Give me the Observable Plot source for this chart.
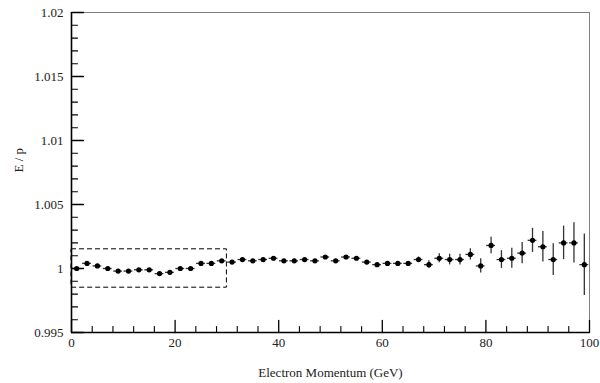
<!DOCTYPE html>
<html>
<head>
<meta charset="utf-8">
<script src="https://cdn.jsdelivr.net/npm/d3@7"></script>
<script src="https://cdn.jsdelivr.net/npm/@observablehq/plot@0.6"></script>
<style>
  html, body { margin: 0; padding: 0; background: #fff; }
  #chart svg, #chart svg text { font-family: "Liberation Serif", "Times New Roman", serif !important; }
</style>
</head>
<body>
<div id="chart"></div>
<script>
const momentum = [1,3,5,7,9,11,13,15,17,19,21,23,25,27,29,31,33,35,37,39,41,43,45,47,49,51,53,55,57,59,61,63,65,67,69,71,73,75,77,79,81,83,85,87,89,91,93,95,97,99];
const ratio = [1.0000,1.0004,1.0002,1.0000,0.9998,0.9998,0.9999,0.9999,0.9996,0.9997,
               1.0000,1.0000,1.0004,1.0004,1.0006,1.0005,1.0007,1.0006,1.0007,1.0008,
               1.0006,1.0006,1.0007,1.0006,1.0009,1.0006,1.0009,1.0008,1.0005,1.0003,
               1.0004,1.0004,1.0004,1.0007,1.0003,1.0008,1.0007,1.0007,1.0011,1.0002,
               1.0018,1.0007,1.0008,1.0012,1.0022,1.0017,1.0007,1.0020,1.0020,1.0003];
const ratioErr = [0.0001,0.0001,0.0001,0.0001,0.0001,0.0001,0.0001,0.0001,0.0001,0.0001,
                  0.0001,0.0001,0.0001,0.0001,0.0001,0.0001,0.0001,0.0001,0.0001,0.0001,
                  0.0001,0.0001,0.0001,0.0001,0.0001,0.0001,0.0001,0.0001,0.0001,0.0001,
                  0.00015,0.00015,0.00015,0.0002,0.0003,0.00035,0.00042,0.00042,0.00044,0.00056,
                  0.00065,0.00069,0.00078,0.00083,0.00094,0.0012,0.00124,0.00131,0.00158,0.0024];
const binHalfWidth = 0.85;
const xMajorTicks = [0,20,40,60,80,100];
const xMinorTicks = [4,8,12,16,24,28,32,36,44,48,52,56,64,68,72,76,84,88,92,96];
const yMajorTicks = [0.995,1.0,1.005,1.01,1.015,1.02];
const yMinorTicks = [0.996,0.997,0.998,0.999,1.001,1.002,1.003,1.004,1.006,1.007,1.008,1.009,1.011,1.012,1.013,1.014,1.016,1.017,1.018,1.019];
const boxRegion = [{x1: 0, x2: 30, y1: 0.9985, y2: 1.0015}];
const xLabel = "Electron Momentum (GeV)";
const yLabel = "E / p";

const data = momentum.map((x, i) => ({x, y: ratio[i], e: ratioErr[i]}));

const tickUp = {draw(ctx, l) { ctx.moveTo(0, 0); ctx.lineTo(0, -l); }};
const tickRight = {draw(ctx, l) { ctx.moveTo(0, 0); ctx.lineTo(l, 0); }};
const font = "'Liberation Serif', 'Times New Roman', serif";

const chart = Plot.plot({
  width: 600,
  height: 383,
  marginLeft: 71,
  marginRight: 11,
  marginTop: 12,
  marginBottom: 51,
  style: `font-family: ${font}; font-size: 13px; background: #fff;`,
  x: {domain: [0, 100], axis: null},
  y: {domain: [0.995, 1.02], axis: null},
  marks: [
    Plot.frame({stroke: "#808080", strokeWidth: 1}),
    Plot.rect(boxRegion, {x1: "x1", x2: "x2", y1: "y1", y2: "y2", fill: "none", stroke: "#000", strokeWidth: 1, strokeDasharray: "5,3"}),
    Plot.ruleX(data, {x: "x", y1: d => d.y - d.e, y2: d => d.y + d.e, stroke: "#333", strokeWidth: 1.3}),
    Plot.ruleY(data, {y: "y", x1: d => d.x - binHalfWidth, x2: d => d.x + binHalfWidth, stroke: "#333", strokeWidth: 1.3}),
    Plot.dot(data, {x: "x", y: "y", r: 2.6, fill: "#000", stroke: "none"}),
    Plot.vector(xMajorTicks, {x: d => d, frameAnchor: "bottom", length: 12, anchor: "start", shape: tickUp, stroke: "#000", strokeWidth: 1.3}),
    Plot.vector(xMinorTicks, {x: d => d, frameAnchor: "bottom", length: 6, anchor: "start", shape: tickUp, stroke: "#000", strokeWidth: 1.1}),
    Plot.vector(yMajorTicks, {y: d => d, frameAnchor: "left", length: 12, anchor: "start", shape: tickRight, stroke: "#000", strokeWidth: 1.3}),
    Plot.vector(yMinorTicks, {y: d => d, frameAnchor: "left", length: 6, anchor: "start", shape: tickRight, stroke: "#000", strokeWidth: 1.1}),
    Plot.ruleX([0], {stroke: "#000", strokeWidth: 1.6}),
    Plot.ruleY([0.995], {stroke: "#000", strokeWidth: 1.6}),
    Plot.axisX({ticks: xMajorTicks, tickSize: 0, tickPadding: 5, tickFormat: d => String(d), fontSize: 13, fontFamily: font, fill: "#222", label: null}),
    Plot.axisY({ticks: yMajorTicks, tickSize: 0, tickPadding: 8, tickFormat: d => String(+d.toFixed(3)), fontSize: 13, fontFamily: font, fill: "#222", label: null}),
    Plot.text([xLabel], {text: d => d, frameAnchor: "bottom", dy: 40, fontSize: 13, fontFamily: font, fill: "#222", lineAnchor: "middle"}),
    Plot.text([yLabel], {text: d => d, frameAnchor: "left", dx: -53, rotate: -90, fontSize: 13, fontFamily: font, fill: "#222", lineAnchor: "middle"})
  ]
});
document.getElementById("chart").appendChild(chart);
</script>
</body>
</html>
